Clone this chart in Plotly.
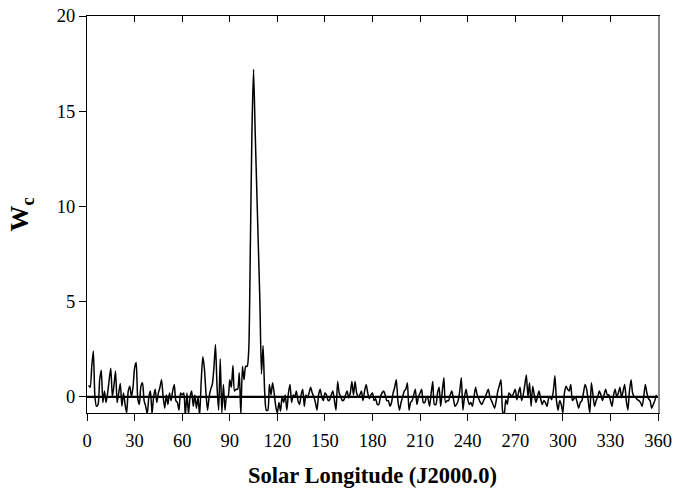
import plotly.graph_objects as go

# Solar longitude (degrees, J2000.0) and the corresponding Wc values
solar_longitude = list(range(1, 360))

wc_values = [
    # 1-10
    0.6, 0.5, 1.6, 2.4, 0.0, -0.5, -0.4, 0.9, 1.4, -0.3,
    # 11-20
    0.3, -0.3, 0.2, 0.9, 1.5, 0.0, 0.6, 1.35, -0.3, 0.2,
    # 21-30
    0.7, -0.5, 0.2, -0.4, -0.85, 0.3, 0.56, 0.0, 0.5, 1.5,
    # 31-40
    1.8, -0.1, -0.4, 0.56, 0.74, -0.2, -0.5, -0.9, 0.0, 0.3,
    # 41-50
    -0.9, 0.0, 0.4, -0.3, 0.2, 0.5, 0.9, 0.0, -0.6, 0.1,
    # 51-60
    -0.4, 0.2, -0.2, 0.3, 0.65, -0.2, -0.3, -0.7, 0.2, 0.1,
    # 61-70
    0.2, -1.0, 0.2, -0.9, 0.0, 0.3, -0.5, 0.1, -0.6, 0.0,
    # 71-80
    -1.0, 0.8, 2.1, 1.5, 0.2, -0.7, 0.0, 0.4, 0.65, 1.5,
    # 81-90
    2.75, 0.5, -0.7, 2.0, -0.85, 0.65, -0.7, 0.0, 0.0, 0.9,
    # 91-100
    0.5, 1.65, 0.3, 0.4, 0.4, 1.26, -0.95, 1.6, 0.9, 1.6,
    # 101-110
    1.6, 2.5, 8.0, 14.0, 17.2, 14.0, 11.0, 8.0, 5.0, 1.2,
    # 111-120
    2.7, 0.3, -0.7, -0.7, 0.65, 0.1, 0.74, 0.2, -0.5, -0.85,
    # 121-130
    -0.3, -0.75, 0.0, -0.3, 0.1, -0.7, 0.2, 0.65, -0.3, 0.1,
    # 131-140
    0.0, 0.3, -0.2, -0.4, 0.1, 0.4, -0.5, 0.1, -0.05, 0.2,
    # 141-150
    0.5, 0.2, 0.0, -0.3, -0.7, 0.1, 0.4, 0.0, -0.2, 0.2,
    # 151-160
    0.1, -0.2, -0.15, 0.1, 0.3, -0.2, -0.7, 0.8, 0.2, 0.0,
    # 161-170
    -0.2, -0.15, 0.1, 0.3, -0.05, 0.2, 0.8, 0.1, 0.8, 0.2,
    # 171-180
    0.0, 0.1, 0.3, -0.2, 0.3, 0.65, 0.2, -0.1, 0.1, 0.2,
    # 181-190
    -0.2, -0.1, -0.4, -0.4, 0.0, 0.2, 0.3, 0.1, -0.2, -0.2,
    # 191-200
    -0.5, -0.3, 0.2, 0.5, 0.9, -0.2, -0.7, -0.3, 0.0, 0.3,
    # 201-210
    0.4, 0.74, -0.7, -0.3, -0.2, 0.1, 0.4, -0.4, 0.0, 0.2,
    # 211-220
    0.4, -0.3, -0.3, 0.0, -0.1, -0.5, 0.2, 0.8, -0.4, -0.4,
    # 221-230
    0.2, 0.5, -0.5, 0.3, 1.0, -0.3, -0.2, -0.2, 0.1, 0.3,
    # 231-240
    -0.1, -0.5, -0.4, -0.2, 0.3, 1.0, -0.7, 0.0, 0.4, -0.1,
    # 241-250
    -0.4, -0.3, -0.5, 0.0, 0.5, 0.1, -0.1, -0.3, -0.4, -0.2,
    # 251-260
    -0.05, 0.2, 0.4, 0.0, -0.2, -0.4, -0.6, -0.2, 0.3, 0.6,
    # 261-270
    0.9, -0.75, -1.0, -0.15, -0.4, 0.2, 0.1, 0.0, 0.2, 0.4,
    # 271-280
    -0.15, 0.2, 0.5, -0.2, 0.1, 0.6, 1.15, 0.0, 0.74, -0.5,
    # 281-290
    0.56, 0.1, -0.3, 0.0, 0.3, -0.1, -0.4, -0.2, -0.3, -0.5,
    # 291-300
    -0.1, 0.0, -0.15, 0.3, 1.1, -0.2, -0.7, -0.2, -0.4, -0.85,
    # 301-310
    0.2, 0.56, 0.4, 0.3, 0.65, -0.2, -0.1, 0.0, -0.3, -0.6,
    # 311-320
    -0.3, -0.2, 0.2, 0.65, 0.4, -0.2, -0.85, 0.74, 0.1, -0.5,
    # 321-330
    -0.2, 0.0, 0.3, 0.1, -0.2, 0.1, 0.4, 0.1, 0.1, -0.2,
    # 331-340
    -0.5, 0.1, 0.4, 0.0, 0.2, 0.5, -0.05, 0.3, 0.65, -0.2,
    # 341-350
    -0.7, 0.3, 0.9, 0.2, 0.0, -0.05, -0.15, -0.2, -0.3, -0.5,
    # 351-359
    0.0, 0.65, 0.2, -0.1, -0.2, -0.6, -0.4, -0.2, 0.1,
]

# Reference level (Wc = 0) across the full longitude range
baseline_x = [0, 360]
baseline_y = [0, 0]

x_ticks = list(range(0, 361, 30))
y_ticks = [0, 5, 10, 15, 20]
x_range = [0, 360]
y_range = [-0.85, 20]

SERIF = "Liberation Serif, Times New Roman, serif"

fig = go.Figure()

fig.add_trace(go.Scatter(
    x=baseline_x, y=baseline_y, mode="lines",
    line=dict(color="black", width=2.2),
    xaxis="x2", yaxis="y2", hoverinfo="skip", showlegend=False,
))

fig.add_trace(go.Scatter(
    x=solar_longitude, y=wc_values, mode="lines",
    line=dict(color="black", width=1.5, shape="spline", smoothing=0.6),
    showlegend=False,
))

fig.update_layout(
    width=673, height=488,
    margin=dict(l=87, r=15, t=16, b=75, autoexpand=False),
    paper_bgcolor="white", plot_bgcolor="white",
    font=dict(family=SERIF, size=18.5, color="black"),
    xaxis=dict(
        range=x_range, tickvals=x_ticks, ticks="outside", ticklen=7,
        tickwidth=1, tickcolor="black", showline=True, linecolor="black",
        linewidth=1, showgrid=False, zeroline=False, automargin=False,
        ticklabelstandoff=4,
        title=dict(text="<b>Solar Longitude (J2000.0)</b>",
                   font=dict(family=SERIF, size=22.5), standoff=18),
    ),
    xaxis2=dict(
        range=x_range, overlaying="x", side="top", anchor="y",
        tickvals=x_ticks, ticks="inside", ticklen=6, tickwidth=1,
        tickcolor="black", showticklabels=False, showline=True,
        linecolor="black", linewidth=1, showgrid=False, zeroline=False,
        automargin=False,
    ),
    yaxis=dict(
        range=y_range, tickvals=y_ticks, ticks="outside", ticklen=7,
        tickwidth=1, tickcolor="black", showline=True, linecolor="black",
        linewidth=1, showgrid=False, zeroline=False, automargin=False,
        title=dict(text="<b>W<sub>c</sub></b>",
                   font=dict(family=SERIF, size=26), standoff=20),
    ),
    yaxis2=dict(
        range=y_range, overlaying="y", side="right", anchor="x",
        showticklabels=False, ticks="", showline=True,
        linecolor="#8a8a8a", linewidth=2, showgrid=False, zeroline=False,
        automargin=False,
    ),
)

fig.write_html("out.html")
